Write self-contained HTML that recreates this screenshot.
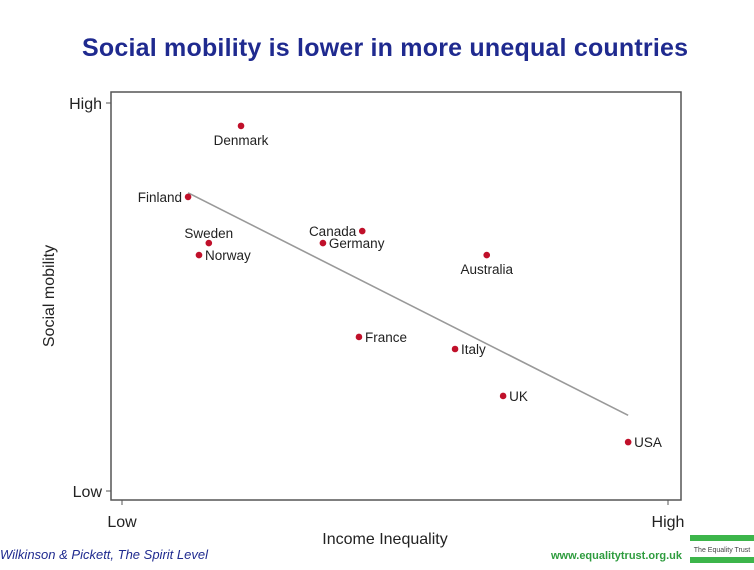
<!DOCTYPE html>
<html><head><meta charset="utf-8"><style>
body{margin:0;background:#fff;width:754px;height:565px;overflow:hidden;font-family:"Liberation Sans",sans-serif}
</style></head><body>
<svg width="754" height="565" id="c">
<text x="385" y="56" text-anchor="middle" font-size="25" font-weight="bold" fill="#1f2a8f" textLength="606">Social mobility is lower in more unequal countries</text>
<rect x="111" y="92" width="570" height="408" fill="none" stroke="#555" stroke-width="1.5"/>
<g id="axes" font-size="16" fill="#222"></g>
<text x="385" y="544" text-anchor="middle" font-size="16" fill="#222">Income Inequality</text>
<text transform="translate(54,296) rotate(-90)" text-anchor="middle" font-size="16" fill="#222">Social mobility</text>
<g id="marks"></g>
<text x="0" y="559" font-size="13" font-style="italic" fill="#1f2a8f">Wilkinson &amp; Pickett,  The Spirit Level</text>
<text x="682" y="559" text-anchor="end" font-size="11" font-weight="bold" fill="#2e9c3e">www.equalitytrust.org.uk</text>
<g>
<rect x="690" y="535" width="64" height="6" fill="#3cb54a"/>
<rect x="690" y="557" width="64" height="6" fill="#3cb54a"/>
<text x="722" y="552" text-anchor="middle" font-size="7" fill="#444">The Equality Trust</text>
</g>
</svg>
<script>
const countries=["Denmark","Finland","Sweden","Norway","Canada","Germany","Australia","France","Italy","UK","USA"];
const inequality=[0.218,0.121,0.159,0.141,0.440,0.368,0.668,0.434,0.610,0.698,0.927];
const mobility=[0.941,0.758,0.639,0.608,0.670,0.639,0.608,0.397,0.366,0.245,0.126];
const labelSide=["below","left","above","right","left","right","below","right","right","right","right"];
const tickLabels=["Low","High"];
const NS="http://www.w3.org/2000/svg";
const xs=v=>122+v*546, ys=v=>491-v*388;
const marks=document.getElementById('marks'), axes=document.getElementById('axes');
function mk(tag,at,p){const e=document.createElementNS(NS,tag);for(const k in at)e.setAttribute(k,at[k]);p.appendChild(e);return e;}
[0,1].forEach(i=>{
  const yt=mk('line',{x1:106,x2:111,y1:ys(i),y2:ys(i),stroke:'#555'},axes);
  
  
  const yl=mk('text',{x:102,y:ys(i)+6,'text-anchor':'end'},axes);yl.textContent=tickLabels[i];
  
  
  const xt=mk('line',{x1:xs(i),x2:xs(i),y1:500,y2:505,stroke:'#555'},axes);
  
  
  const xl=mk('text',{x:xs(i),y:527,'text-anchor':'middle'},axes);xl.textContent=tickLabels[i];
  
  
});
const n=inequality.length,mx=inequality.reduce((a,b)=>a+b)/n,my=mobility.reduce((a,b)=>a+b)/n;
let sxy=0,sxx=0;for(let i=0;i<n;i++){sxy+=(inequality[i]-mx)*(mobility[i]-my);sxx+=(inequality[i]-mx)**2;}
const b=sxy/sxx,a=my-b*mx,x0=Math.min(...inequality),x1=Math.max(...inequality);
const fl=mk('line',{x1:xs(x0),y1:ys(a+b*x0),x2:xs(x1),y2:ys(a+b*x1),stroke:'#999','stroke-width':1.6},marks);


countries.forEach((c,i)=>{
  const cx=xs(inequality[i]),cy=ys(mobility[i]);
  const d=mk('circle',{cx:cx,cy:cy,r:3.3,fill:'#c0102a'},marks);
  
  
  let tx=cx,ty=cy+5,anc='middle';const s=labelSide[i];
  if(s==='below'){ty=cy+19;}else if(s==='above'){ty=cy-5;}else if(s==='left'){tx=cx-6;anc='end';ty=cy+5;}else{tx=cx+6;anc='start';ty=cy+5;}
  const t=mk('text',{x:tx,y:ty,'text-anchor':anc,'font-size':13.5,fill:'#222'},marks);t.textContent=c;
  
  
});
</script>
</body></html>
